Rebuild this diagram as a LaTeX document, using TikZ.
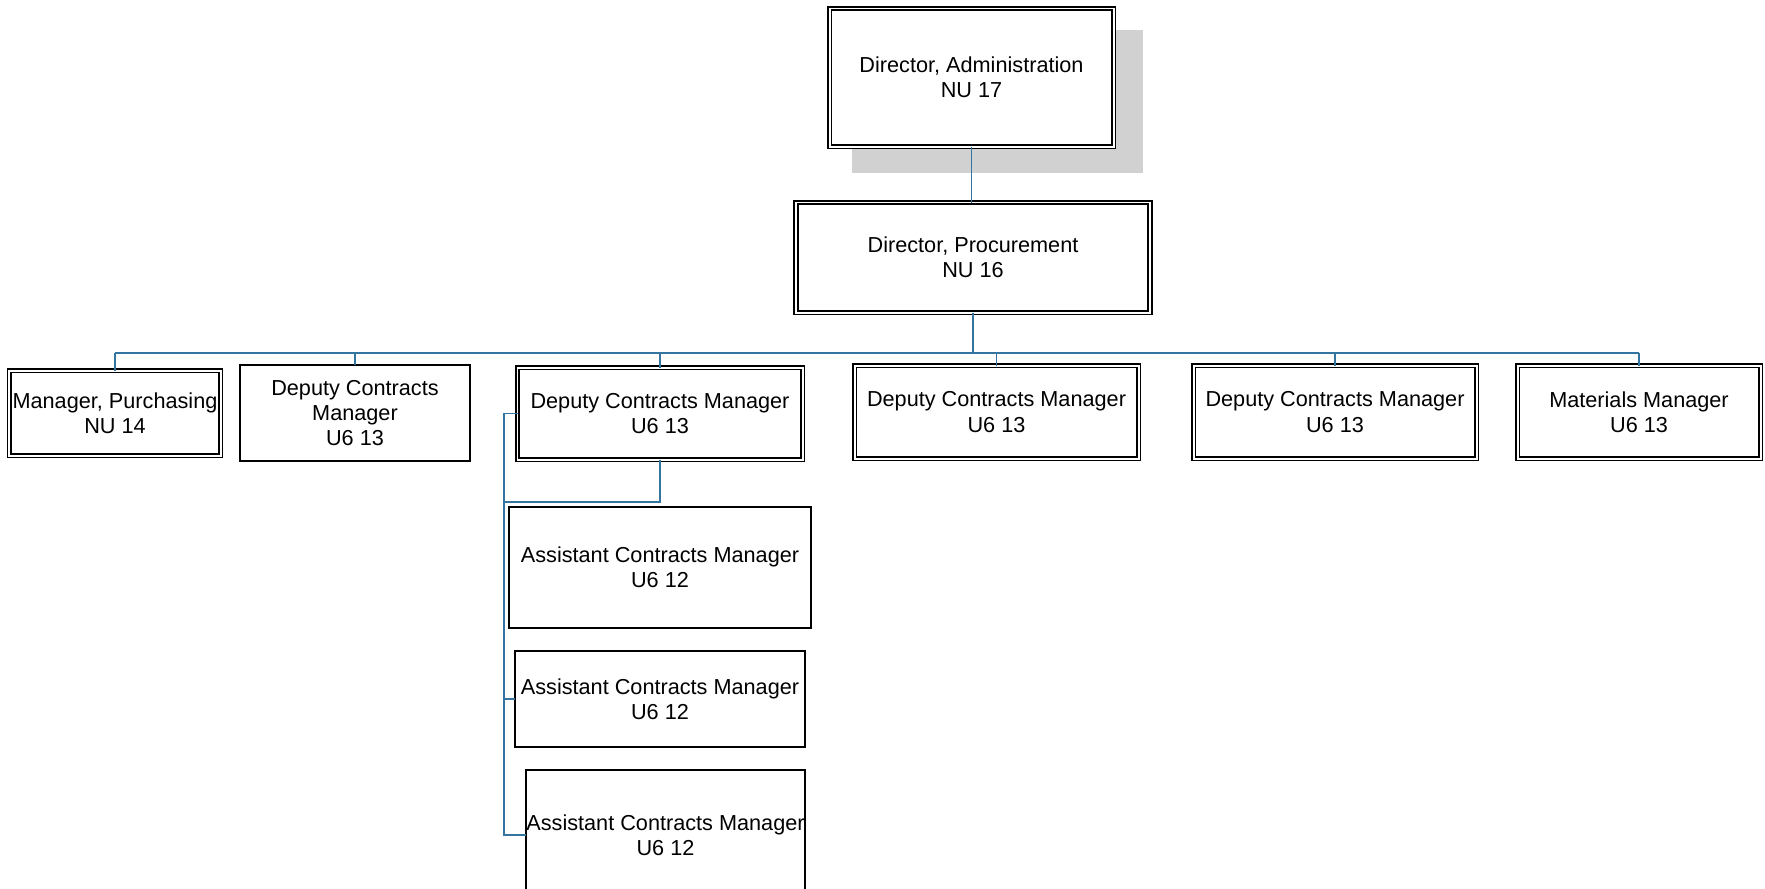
\documentclass[tikz,border=0pt]{standalone}
\usepackage{fontspec}
\setmainfont{Liberation Sans}
\begin{document}
\begin{tikzpicture}[x=0.03cm, y=-0.03cm,
  every node/.style={font=\fontsize{18.5}{21.5}\selectfont, align=center, inner sep=0pt, outer sep=0pt},
  dbox/.style={draw=black, line width=1.4pt, double=white, double distance=1.7pt, fill=white},
  sbox/.style={draw=black, line width=1.3pt, fill=white},
  conn/.style={draw={rgb,255:red,52;green,116;blue,160}, line width=1.3pt},
  shade/.style={fill=black!18}]

\fill[white] (0,0) rectangle (1765,888);
\useasboundingbox (0,0) rectangle (1765,888);

% drop shadow behind the top box
\fill[shade] (852,30) rectangle (1143,173);

% top two levels
\node[dbox, minimum width=8.52cm, minimum height=4.14cm] (admin) at (971.5,77.5) {Director, Administration\\NU 17};
\node[dbox, minimum width=10.62cm, minimum height=3.3cm] (proc) at (973,257.5) {Director, Procurement\\NU 16};

% managers row
\node[dbox, minimum width=6.33cm, minimum height=2.55cm] (b1) at (115,413) {Manager, Purchasing\\NU 14};
\node[sbox, minimum width=6.9cm, minimum height=2.88cm] (b2) at (355,413) {Deputy Contracts\\Manager\\U6 13};
\node[dbox, minimum width=8.55cm, minimum height=2.76cm] (b3) at (660,413.5) {Deputy Contracts Manager\\U6 13};
\node[dbox, minimum width=8.52cm, minimum height=2.79cm] (b4) at (996.5,412) {Deputy Contracts Manager\\U6 13};
\node[dbox, minimum width=8.49cm, minimum height=2.79cm] (b5) at (1335,412) {Deputy Contracts Manager\\U6 13};
\node[dbox, minimum width=7.29cm, minimum height=2.79cm] (b6) at (1639,412) {Materials Manager\\U6 13};

% assistants
\node[sbox, minimum width=9.06cm, minimum height=3.63cm] (a1) at (660,567.5) {Assistant Contracts Manager\\U6 12};
\node[sbox, minimum width=8.7cm, minimum height=2.88cm] (a2) at (660,699) {Assistant Contracts Manager\\U6 12};
\node[sbox, minimum width=8.37cm, minimum height=3.9cm] (a3) at (665.5,835) {Assistant Contracts Manager\\U6 12};

% connector helpers
\coordinate (bus) at (0,353);
\coordinate (spine) at (504,413);
\coordinate (tee) at (0,502);

% reporting lines
\draw[conn] (admin.south) -- (admin.south |- proc.north);
\draw[conn] (proc.south) -- (proc.south |- bus);
\draw[conn] (b1.north |- bus) -- (b6.north |- bus);
\foreach \n in {b1,b2,b3,b4,b5,b6}
  \draw[conn] (\n.north) -- (\n.north |- bus);

\draw[conn] (b3.west) -| (spine |- a3.west) -- (a3.west);
\draw[conn] (b3.south) -- (b3.south |- tee) -- (spine |- tee);
\draw[conn] (a2.west) -- (spine |- a2.west);
\end{tikzpicture}
\end{document}
